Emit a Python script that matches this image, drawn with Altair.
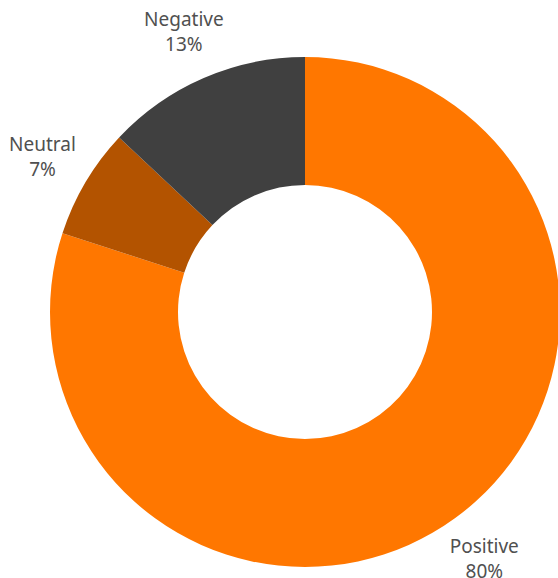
import altair as alt
import pandas as pd

categories = ["Positive", "Neutral", "Negative"]
values = [80, 7, 13]
colors = ["#FF7700", "#B35300", "#404040"]

df = pd.DataFrame({
    "category": categories,
    "value": values,
    "idx": list(range(len(categories))),
    "label": [f"{c}\n{v}%" for c, v in zip(categories, values)],
})

cx, cy = 305, 312

base = alt.Chart(df).encode(
    theta=alt.Theta("value:Q", stack=True),
    order=alt.Order("idx:Q"),
)

arcs = base.mark_arc(outerRadius=255, innerRadius=127).encode(
    color=alt.Color("category:N", scale=alt.Scale(domain=categories, range=colors), legend=None),
    x=alt.value(cx),
    y=alt.value(cy),
)

labels = base.mark_text(
    radius=305, fontSize=19, font="Noto Sans", color="#505050",
    lineBreak="\n", lineHeight=25, align="center", baseline="middle", dy=-12,
).encode(
    text="label:N",
    x=alt.value(cx),
    y=alt.value(cy),
)

chart = alt.layer(arcs, labels).properties(
    width=558, height=578, padding=0,
    autosize=alt.AutoSizeParams(type="none"),
).configure_view(stroke=None)

chart.save("out.html", embed_options={"renderer": "svg", "actions": False})
